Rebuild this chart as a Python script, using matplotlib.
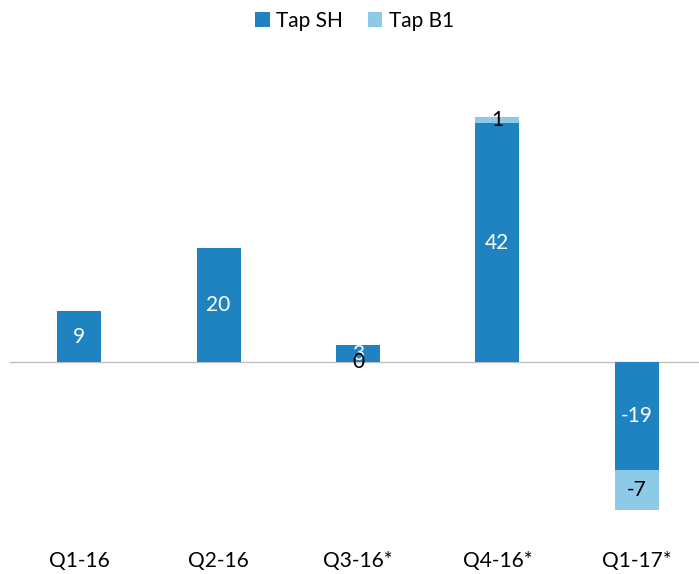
import matplotlib.pyplot as plt
import numpy as np

categories = ['Q1-16', 'Q2-16', 'Q3-16*', 'Q4-16*', 'Q1-17*']
tap_sh = np.array([9, 20, 3, 42, -19])
tap_b1 = np.array([np.nan, np.nan, 0, 1, -7])


def main():
    plt.rcParams['font.family'] = ['Lato', 'DejaVu Sans']
    fig = plt.figure(figsize=(6.99, 5.74), dpi=100)
    ax = fig.add_axes([9.5 / 699, 44 / 574, 690 / 699, 470 / 574])

    x = np.arange(len(categories))
    w = 0.315
    dark = '#1f83c1'
    light = '#8ccae8'

    # excel-style stacking: same-sign values pile up, zero sits on the axis
    same = (np.sign(tap_b1) == np.sign(tap_sh)) & (tap_b1 != 0)
    bottom = np.where(same, tap_sh, 0)

    b1 = ax.bar(x, tap_sh, w, color=dark, label='Tap SH')
    b2 = ax.bar(x, np.nan_to_num(tap_b1), w, bottom=bottom, color=light, label='Tap B1')
    ax.bar_label(b1, labels=[f'{v:g}' for v in tap_sh], label_type='center',
                 color='white', fontsize=15)
    ax.bar_label(b2, labels=['' if np.isnan(v) else f'{v:g}' for v in tap_b1],
                 label_type='center', color='black', fontsize=15)

    ax.axhline(0, color='#c0c0c0', lw=1, zorder=0)
    ax.set_xlim(-0.5, 4.45)
    ax.set_ylim(-29.5, 53.1)
    for s in ax.spines.values():
        s.set_visible(False)
    ax.set_yticks([])
    ax.set_xticks(x)
    ax.set_xticklabels(categories, fontsize=15)
    ax.tick_params(axis='x', length=0, pad=0)
    for lbl in ax.get_xticklabels():
        lbl.set_y(-0.045)

    ax.legend(loc='upper center', bbox_to_anchor=(0.5, 1.145), ncol=2,
              frameon=False, fontsize=15, handlelength=0.7, handleheight=0.7,
              handletextpad=0.3, columnspacing=1.2)

    fig.savefig('out.png', dpi=100)


if __name__ == '__main__':
    main()
